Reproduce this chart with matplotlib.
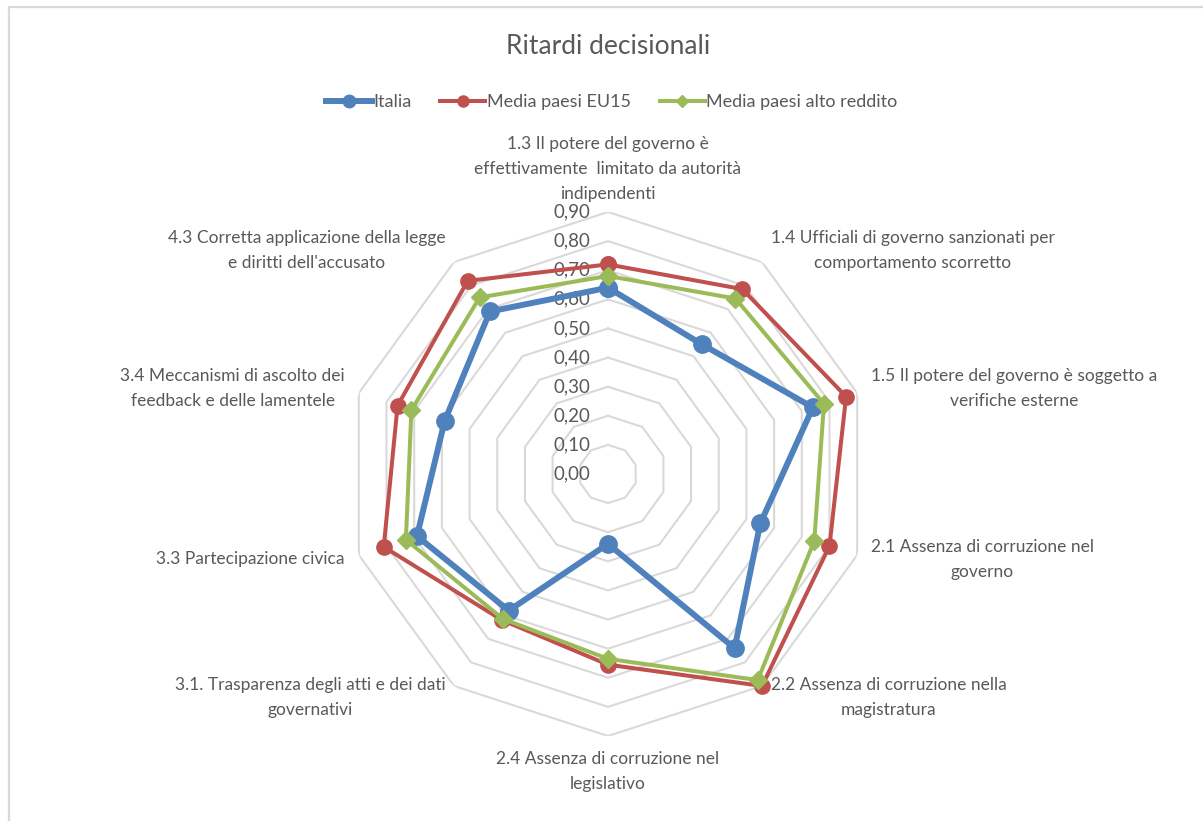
import numpy as np
import matplotlib
matplotlib.use("Agg")
import matplotlib.pyplot as plt
from matplotlib.lines import Line2D
from matplotlib.transforms import offset_copy

plt.rcParams['font.family'] = ['Lato', 'DejaVu Sans']

# categories (clockwise from top)
categories = [
    "1.3 Il potere del governo è\neffettivamente  limitato da autorità\nindipendenti",
    "1.4 Ufficiali di governo sanzionati per\ncomportamento scorretto",
    "1.5 Il potere del governo è soggetto a\nverifiche esterne",
    "2.1 Assenza di corruzione nel\ngoverno",
    "2.2 Assenza di corruzione nella\nmagistratura",
    "2.4 Assenza di corruzione nel\nlegislativo",
    "3.1. Trasparenza degli atti e dei dati\ngovernativi",
    "3.3 Partecipazione civica",
    "3.4 Meccanismi di ascolto dei\nfeedback e delle lamentele",
    "4.3 Corretta applicazione della legge\ne diritti dell'accusato",
]

italia = [0.64, 0.55, 0.74, 0.55, 0.74, 0.24, 0.58, 0.69, 0.59, 0.69]
eu15 = [0.72, 0.785, 0.86, 0.80, 0.90, 0.655, 0.62, 0.81, 0.76, 0.82]
alto_reddito = [0.68, 0.745, 0.78, 0.745, 0.875, 0.635, 0.615, 0.73, 0.71, 0.75]

series_names = ['Italia', 'Media paesi EU15', 'Media paesi alto reddito']
ring_levels = np.arange(0, 0.91, 0.1)
ring_labels = [f'{v:.2f}'.replace('.', ',') for v in ring_levels]

c_blue = '#4F81BD'
c_red = '#C0504D'
c_green = '#9BBB59'
c_grid = '#D9D9D9'
c_text = '#595959'

W, H = 1203, 821
fig = plt.figure(figsize=(W / 100, H / 100), dpi=100, facecolor='white')

# chart border (top and left visible)
fig.add_artist(Line2D([9 / W, 1], [1 - 7 / H, 1 - 7 / H], color=c_grid, lw=1.6))
fig.add_artist(Line2D([9 / W, 9 / W], [0, 1 - 7 / H], color=c_grid, lw=1.6))

cx, cy, R = 608, 474, 262
ax = fig.add_axes([(cx - R) / W, (H - cy - R) / H, 2 * R / W, 2 * R / H],
                  projection='polar')
ax.set_theta_zero_location('N')
ax.set_theta_direction(-1)
ax.set_ylim(0, 0.9)
ax.grid(False)
ax.set_xticks([])
ax.set_yticks([])
ax.spines['polar'].set_visible(False)
ax.patch.set_alpha(0)

n = len(categories)
theta = np.linspace(0, 2 * np.pi, n, endpoint=False)
theta_c = np.append(theta, theta[0])

# decagon rings
for lev in ring_levels[1:]:
    ax.plot(theta_c, [lev] * (n + 1), color=c_grid, lw=1.5, zorder=1)

# ring labels
tr = offset_copy(ax.transData, fig=fig, x=-18, y=0, units='dots')
for lev, lab in zip(ring_levels, ring_labels):
    ax.text(0, lev, lab, transform=tr, ha='right', va='center',
            fontsize=13.5, color=c_text)


def close(v):
    return list(v) + [v[0]]


ax.plot(theta_c, close(italia), color=c_blue, lw=4.3, marker='o', ms=12.5,
        zorder=3, clip_on=False)
ax.plot(theta_c, close(eu15), color=c_red, lw=2.9, marker='o', ms=11,
        zorder=4, clip_on=False)
ax.plot(theta_c, close(alto_reddito), color=c_green, lw=2.9, marker='D', ms=9,
        zorder=5, clip_on=False)

# category labels
for t, lab in zip(theta, categories):
    s = np.sin(t)
    if abs(s) < 1e-6:
        ha = 'center'
        va = 'bottom' if np.cos(t) > 0 else 'top'
        r_lab = 0.935 if np.cos(t) > 0 else 0.95
    else:
        ha = 'left' if s > 0 else 'right'
        va = 'center'
        r_lab = 0.95
    ax.text(t, r_lab, lab, ha=ha, va=va, multialignment='center',
            fontsize=12.5, color=c_text, linespacing=1.7, clip_on=False)

fig.text(cx / W, 1 - 47 / H, 'Ritardi decisionali', ha='center', va='center',
         fontsize=19, color=c_text)

handles = [
    Line2D([], [], color=c_blue, lw=4.3, marker='o', ms=9),
    Line2D([], [], color=c_red, lw=2.9, marker='o', ms=8),
    Line2D([], [], color=c_green, lw=2.9, marker='D', ms=6.5),
]
fig.legend(handles, series_names, loc='center', ncol=3,
           bbox_to_anchor=(612 / W, 1 - 102 / H), frameon=False,
           fontsize=13, labelcolor=c_text, handlelength=2.5,
           handletextpad=0.08, columnspacing=1.6)

fig.savefig('out.png', dpi=100, facecolor='white')
